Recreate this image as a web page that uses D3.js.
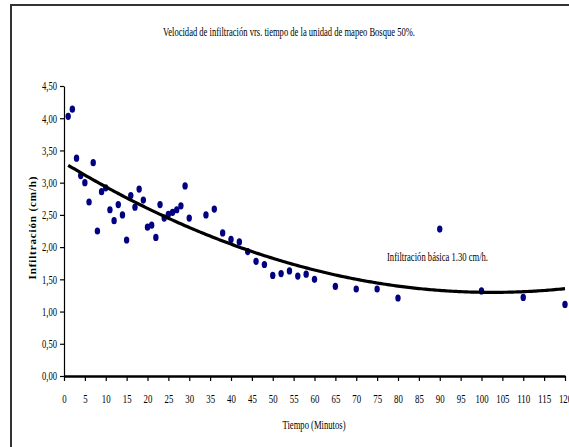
<!DOCTYPE html>
<html>
<head>
<meta charset="utf-8">
<script src="https://cdn.jsdelivr.net/npm/d3@7/dist/d3.min.js"></script>
<style>
  body { margin: 0; background: #fff; }
  svg { display: block; }
  text { font-family: "Liberation Serif", "DejaVu Serif", serif; fill: #000; }
</style>
</head>
<body>
<div id="chart"></div>
<script>
// minutos y velocidad de infiltración (cm/h)
var tiempo = [1, 2, 3, 4, 5, 6, 7, 8, 9, 10, 11, 12, 13, 14, 15, 16, 17, 18, 19, 20,
              21, 22, 23, 24, 25, 26, 27, 28, 29, 30, 34, 36, 38, 40, 42, 44, 46, 48, 50, 52,
              54, 56, 58, 60, 65, 70, 75, 80, 90, 100, 110, 120]
var infiltracion = [4.03, 4.14, 3.38, 3.11, 3.00, 2.70, 3.31, 2.25, 2.86, 2.92, 2.58, 2.41, 2.66, 2.50, 2.11, 2.80, 2.62, 2.90, 2.73, 2.31,
                    2.34, 2.15, 2.66, 2.45, 2.51, 2.54, 2.58, 2.64, 2.95, 2.45, 2.50, 2.59, 2.22, 2.12, 2.08, 1.93, 1.78, 1.73, 1.56, 1.59,
                    1.63, 1.55, 1.58, 1.50, 1.39, 1.35, 1.35, 1.21, 2.28, 1.32, 1.22, 1.11]
// línea de tendencia polinómica (c0 + c1*t + c2*t^2)
var trendCoef = [3.309, -0.0392, 0.000191]
var xTicks = d3.range(0, 121, 5)
var yTicks = [0, 0.5, 1, 1.5, 2, 2.5, 3, 3.5, 4, 4.5]

var W = 569, H = 447
var mLeft = 64, mRight = 565, mTop = 86, mBottom = 376

var svg = d3.select('#chart').append('svg').attr('width', W).attr('height', H)

// marco del gráfico
svg.append('path')
    .attr('d', 'M11,' + (H + 2) + 'V5H' + (W + 2))
    .attr('fill', 'none').attr('stroke', '#333').attr('stroke-width', 2)

var x = d3.scaleLinear().domain([0, 120]).range([mLeft, mRight])
var y = d3.scaleLinear().domain([0, 4.5]).range([mBottom, mTop])
var fmt = function(d){ return d3.format('.2f')(d).replace('.', ',') }

svg.append('text')
    .attr('x', 289).attr('y', 36)
    .attr('text-anchor', 'middle').attr('font-size', 12)
    .attr('textLength', 252).attr('lengthAdjust', 'spacingAndGlyphs')
    .text('Velocidad de infiltración vrs. tiempo de la unidad de mapeo Bosque 50%.')

// eje y
var yAxis = svg.append('g').attr('transform', 'translate(' + mLeft + ',0)')
    .call(d3.axisLeft(y).tickValues(yTicks).tickFormat(fmt).tickSize(4).tickPadding(3).tickSizeOuter(0))
yAxis.select('.domain').attr('stroke', '#000').attr('stroke-width', 1.2)
yAxis.selectAll('.tick line').attr('stroke', '#000').attr('stroke-width', 1.2)
yAxis.selectAll('.tick text')
    .attr('font-family', 'Liberation Serif').attr('font-size', 12).attr('fill', '#000')
    .attr('textLength', 15).attr('lengthAdjust', 'spacingAndGlyphs')

// eje x
var xAxis = svg.append('g').attr('transform', 'translate(0,' + mBottom + ')')
    .call(d3.axisBottom(x).tickValues(xTicks).tickSize(5).tickPadding(13).tickSizeOuter(0))
xAxis.select('.domain').attr('stroke', '#000').attr('stroke-width', 2.5)
xAxis.selectAll('.tick line').attr('stroke', '#000').attr('stroke-width', 1.2)
xAxis.selectAll('.tick text')
    .attr('font-family', 'Liberation Serif').attr('font-size', 13).attr('fill', '#000')
    .attr('textLength', function(d){ return String(d).length * 4.4 }).attr('lengthAdjust', 'spacingAndGlyphs')

svg.append('text')
    .attr('x', 314).attr('y', 429)
    .attr('text-anchor', 'middle').attr('font-size', 13)
    .attr('textLength', 63).attr('lengthAdjust', 'spacingAndGlyphs')
    .text('Tiempo (Minutos)')

svg.append('text')
    .attr('transform', 'translate(36,228) rotate(-90)')
    .attr('text-anchor', 'middle').attr('font-size', 11).attr('font-weight', 'bold')
    .attr('textLength', 103).attr('lengthAdjust', 'spacing')
    .text('Infiltración (cm/h)')

// puntos
var puntos = tiempo.map(function(t, i){ return {t: t, v: infiltracion[i]} })
svg.append('g').selectAll('ellipse')
    .data(puntos)
    .enter()
    .append('ellipse')
    .attr('cx', function(d){ return x(d.t) })
    .attr('cy', function(d){ return y(d.v) })
    .attr('rx', 2.7).attr('ry', 3.6)
    .attr('fill', '#000080')

// tendencia
var trend = d3.range(1, 120.5, 0.5).map(function(t){
    return [t, trendCoef[0] + trendCoef[1] * t + trendCoef[2] * t * t]
})
svg.append('path')
    .datum(trend)
    .attr('fill', 'none').attr('stroke', '#000').attr('stroke-width', 3.2)
    .attr('d', d3.line().x(function(d){ return x(d[0]) }).y(function(d){ return y(d[1]) }))

svg.append('text')
    .attr('x', 387).attr('y', 261).attr('font-size', 12)
    .attr('textLength', 101).attr('lengthAdjust', 'spacingAndGlyphs')
    .text('Infiltración básica 1.30 cm/h.')
</script>
</body>
</html>
